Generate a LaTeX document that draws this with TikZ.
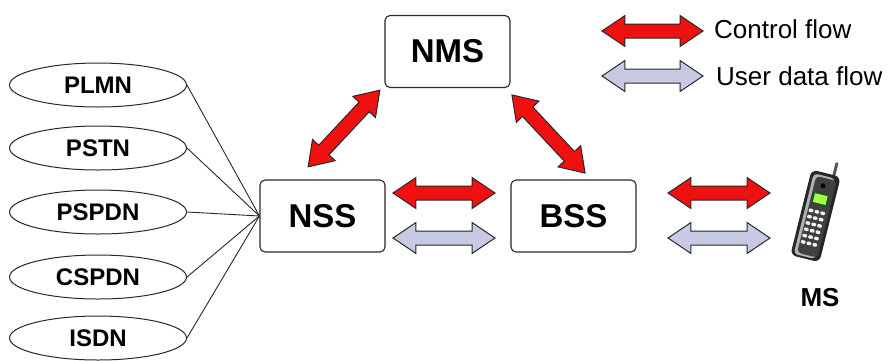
\documentclass[tikz,border=0pt]{standalone}
\usepackage{fontspec}
\setmainfont{Liberation Sans}
\usetikzlibrary{shapes.geometric,shapes.arrows}
\definecolor{ctrlred}{RGB}{240,16,16}
\definecolor{userblue}{RGB}{200,202,228}
\definecolor{edge}{RGB}{40,40,40}
\tikzset{
  netbox/.style={draw=edge,line width=1.1pt,rounded corners=5pt,fill=white,
    minimum width=125pt,minimum height=72pt,inner sep=0pt,font=\bfseries\fontsize{33}{33}\selectfont},
  netell/.style={draw=edge,line width=1pt,ellipse,minimum width=177pt,minimum height=44pt,
    inner sep=0pt,font=\bfseries\fontsize{24}{24}\selectfont},
  darrow/.style={double arrow,draw=edge,line width=1pt,inner xsep=0pt,inner ysep=6.5pt,
    minimum width=0pt,double arrow head extend=8.5pt,double arrow tip angle=68,sloped,midway},
  ctrl/.style={darrow,fill=ctrlred},
  user/.style={darrow,fill=userblue},
  link/.style={draw=edge,line width=0.9pt},
  legtext/.style={anchor=west,inner sep=0pt,font=\fontsize{26}{26}\selectfont}
}
\begin{document}
\begin{tikzpicture}[x=1pt,y=-1pt]
\useasboundingbox (0,0) rectangle (889,360);
% main boxes
\node[netbox] (nms) at (447.5,51.5) {NMS};
\node[netbox] (nss) at (322.5,216) {NSS};
\node[netbox] (bss) at (573.5,216) {BSS};
% external networks
\node[netell] (plmn)  at (98,85)  {PLMN};
\node[netell] (pstn)  at (98,148) {PSTN};
\node[netell] (pspdn) at (98,212) {PSPDN};
\node[netell] (cspdn) at (98,277) {CSPDN};
\node[netell] (isdn)  at (98,338) {ISDN};
\foreach \n in {plmn,pstn,pspdn,cspdn,isdn}
  \draw[link] (\n.east) -- (nss.west);
% arrow end points
\coordinate (a1) at (308,167); \coordinate (a2) at (380,90);
\coordinate (b1) at (512,95);  \coordinate (b2) at (585,173);
\coordinate (c1) at (393,193); \coordinate (c2) at (495,193);
\coordinate (d1) at (393,238); \coordinate (d2) at (495,238);
\coordinate (e1) at (668,193); \coordinate (e2) at (770,193);
\coordinate (f1) at (668,238); \coordinate (f2) at (770,238);
\coordinate (g1) at (602,31);  \coordinate (g2) at (703,31);
\coordinate (h1) at (602,76);  \coordinate (h2) at (703,76);
\path (a1) -- node[ctrl,minimum height=105pt] (nmsnss) {} (a2);
\path (b1) -- node[ctrl,minimum height=107pt] (nmsbss) {} (b2);
\path (c1) -- node[ctrl,minimum height=102pt] (nssbssc) {} (c2);
\path (d1) -- node[user,minimum height=102pt] (nssbssu) {} (d2);
\path (e1) -- node[ctrl,minimum height=102pt] (bssmsc) {} (e2);
\path (f1) -- node[user,minimum height=102pt] (bssmsu) {} (f2);
\path (g1) -- node[ctrl,minimum height=101pt] (legc) {} (g2);
\path (h1) -- node[user,minimum height=101pt] (legu) {} (h2);
% legend text
\node[legtext] (lc) at (714,29) {Control flow};
\node[legtext] (lu) at (716,76) {User data flow};
% mobile phone
\begin{scope}[shift={(816,214)},rotate=-14]
  \draw[line width=3pt,gray!70!black,line cap=round] (8,-40) -- (8,-54);
  \fill[black!85,rounded corners=6pt] (-15,-42) rectangle (15,46);
  \fill[gray!60,rounded corners=4pt] (-12,-39) rectangle (10,44);
  \fill[black!75,rounded corners=4pt] (-9,-37) rectangle (12,42);
  \fill[black] (0,-29) circle (2.5pt);
  \fill[green!40!black] (-7,-21) rectangle (8,-10);
  \fill[green!50!yellow!70] (-6,-20) rectangle (7,-11);
  \foreach \r in {0,...,5}
    \foreach \c in {0,1,2}
      \fill[white!90!gray,rounded corners=1pt] (-8+\c*6,-4+\r*6.5) rectangle ++(4.6,3.4);
\end{scope}
\node[font=\bfseries\fontsize{26}{26}\selectfont,inner sep=0pt] (ms) at (820,298) {MS};
\end{tikzpicture}
\end{document}
